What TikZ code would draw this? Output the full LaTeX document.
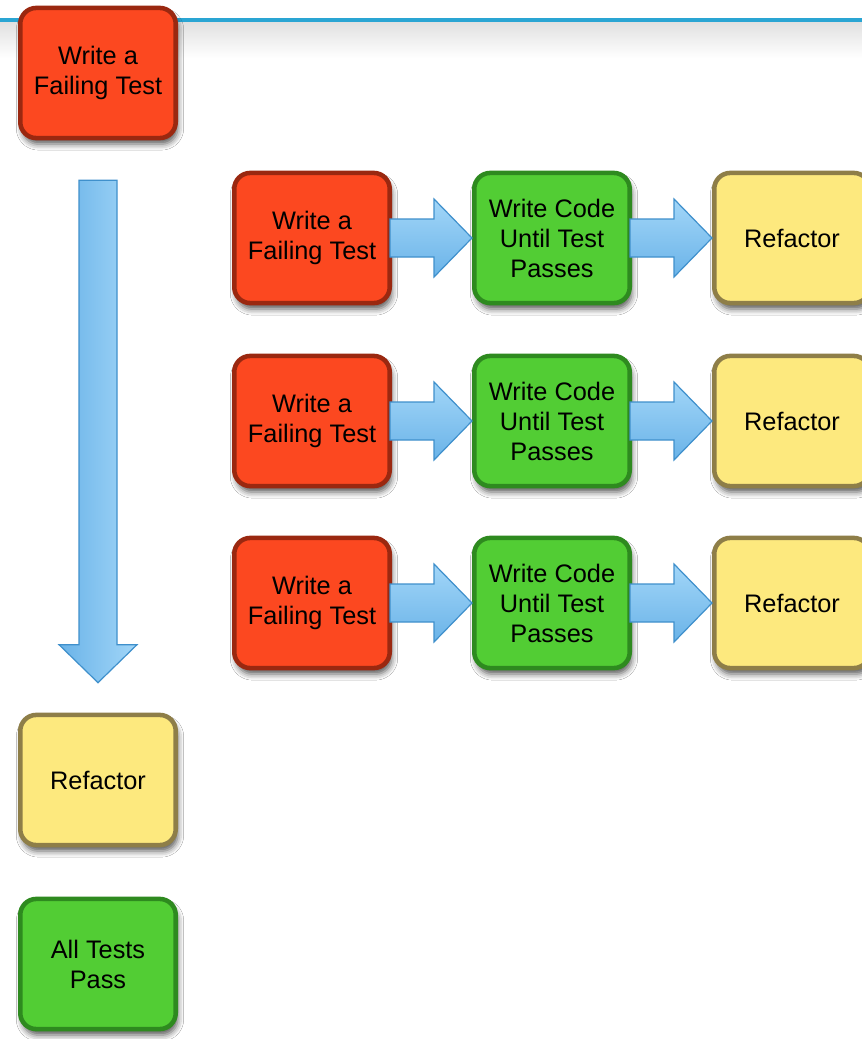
\documentclass[tikz,border=0pt]{standalone}
\usepackage{fontspec}
\setmainfont{Liberation Sans}
\usetikzlibrary{calc,shadows.blur}

\definecolor{redfill}{HTML}{FC4820}
\definecolor{redline}{HTML}{9A2810}
\definecolor{greenfill}{HTML}{52CD34}
\definecolor{greenline}{HTML}{2E8A1F}
\definecolor{yellowfill}{HTML}{FDE97E}
\definecolor{yellowline}{HTML}{8E7E48}
\definecolor{arrowline}{HTML}{3F90CC}
\definecolor{arrowlight}{HTML}{A2D6F8}
\definecolor{arrowdark}{HTML}{6AB3E8}
\definecolor{headerline}{HTML}{2AA5D3}

\tikzset{
  card/.style={rounded corners=12pt, line width=3.4pt,
    minimum width=116.6pt, minimum height=97.6pt, inner sep=0pt,
    align=center, font=\fontsize{19}{22.5}\selectfont, text=black,
    blur shadow={shadow xshift=1.5pt, shadow yshift=-4.5pt,
                 shadow blur radius=4.5pt, shadow opacity=65}},
  failcard/.style={card, draw=redline, fill=redfill},
  passcard/.style={card, draw=greenline, fill=greenfill},
  refcard/.style={card, draw=yellowline, fill=yellowfill},
  hflow/.style={draw=arrowline, line width=0.9pt, line join=miter,
    top color=arrowlight, bottom color=arrowdark},
  vflow/.style={draw=arrowline, line width=0.9pt, line join=miter,
    left color=arrowdark, right color=arrowlight},
}

\begin{document}
\begin{tikzpicture}[x=0.75pt, y=-0.75pt]
  \useasboundingbox (0,0) rectangle (862,1039);
  \clip (0,0) rectangle (862,1039);
  \fill[white] (0,0) rectangle (862,1039);

  % header rule with its soft shade
  \shade[top color=black!12, bottom color=white] (0,22) rectangle (862,58);
  \draw[headerline, line width=3pt] (0,20) -- (862,20);

  % left column
  \node[failcard] (top)  at (98,73)  {Write a\\Failing Test};
  \node[refcard]  (lref) at (98,780) {Refactor};
  \node[passcard] (done) at (98,964) {All Tests\\Pass};

  % the long downward arrow
  \coordinate (vs) at ($(top.south)+(0,40)$);
  \coordinate (ve) at ($(lref.north)+(0,-30)$);
  \draw[vflow] ($(vs)+(-19,0)$) -- ($(ve)+(-19,-38)$) -- ($(ve)+(-39,-38)$)
    -- (ve) -- ($(ve)+(39,-38)$) -- ($(ve)+(19,-38)$) -- ($(vs)+(19,0)$) -- cycle;

  % the three cycles
  \foreach \i/\y in {1/238, 2/421, 3/603} {
    \node[failcard] (f\i) at (312,\y) {Write a\\Failing Test};
    \node[passcard] (c\i) at (552,\y) {Write Code\\Until Test\\Passes};
    \node[refcard]  (r\i) at (792,\y) {Refactor};
    \draw[hflow] ($(f\i.east)+(-2,-19)$) -- ($(c\i.west)+(-38,-19)$)
      -- ($(c\i.west)+(-38,-39)$) -- (c\i.west) -- ($(c\i.west)+(-38,39)$)
      -- ($(c\i.west)+(-38,19)$) -- ($(f\i.east)+(-2,19)$) -- cycle;
    \draw[hflow] ($(c\i.east)+(-2,-19)$) -- ($(r\i.west)+(-38,-19)$)
      -- ($(r\i.west)+(-38,-39)$) -- (r\i.west) -- ($(r\i.west)+(-38,39)$)
      -- ($(r\i.west)+(-38,19)$) -- ($(c\i.east)+(-2,19)$) -- cycle;
  }
\end{tikzpicture}
\end{document}
